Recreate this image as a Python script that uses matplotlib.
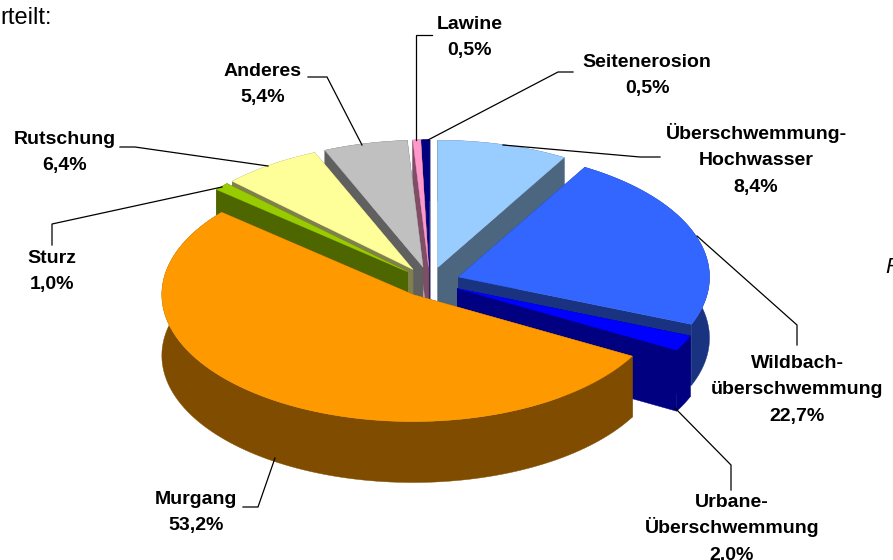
import numpy as np
import matplotlib
matplotlib.use('Agg')
import matplotlib.pyplot as plt
from matplotlib.patches import Polygon

plt.rcParams['font.family'] = ['Liberation Sans', 'DejaVu Sans']

# clockwise from 12 o'clock
names = ['Überschwemmung-\nHochwasser', 'Wildbach-\nüberschwemmung', 'Urbane-\nÜberschwemmung',
         'Murgang', 'Sturz', 'Rutschung', 'Anderes', 'Lawine', 'Seitenerosion']
shares = [8.4, 22.7, 2.0, 53.2, 1.0, 6.4, 5.4, 0.5, 0.5]
top_colors = ['#99CCFF', '#3366FF', '#0000FF', '#FF9900', '#99CC00',
              '#FFFF99', '#C0C0C0', '#FF99CC', '#000080']

# pie geometry in pixels
CX, CY = 430, 282
RX, RY = 251, 127
DEPTH = 61
EXPLODE = 0.12

# label centre and first line y, same order as names
label_pos = [(756, 132), (797, 361), (732, 500), (196, 497), (52, 256),
             (65, 137), (263, 69), (470, 22), (647, 60)]
leaders = [
    [(503, 145), (640, 157), (660, 157)],
    [(697, 236), (797, 325), (797, 345)],
    [(675, 408), (731, 465), (731, 490)],
    [(275, 458), (258, 507), (243, 507)],
    [(222, 187), (52, 224), (52, 245)],
    [(268, 166), (135, 147), (120, 147)],
    [(362, 145), (327, 77), (308, 77)],
    [(416, 140), (416, 35), (432, 35)],
    [(428, 140), (558, 72), (573, 72)],
]


def shade(color):
    return tuple(c * 0.5 for c in matplotlib.colors.to_rgb(color))


def draw_slice(ax, start, end, color):
    mid = (start + end) / 2
    ax_x = CX + EXPLODE * RX * np.sin(mid)
    ax_y = CY - EXPLODE * RY * np.cos(mid)
    t = np.linspace(start, end, 120)
    arc_x = ax_x + RX * np.sin(t)
    arc_y = ax_y - RY * np.cos(t)
    side = shade(color)
    style = dict(facecolor=side, edgecolor=side, linewidth=0.3)

    # cut faces first, then outer wall, then the top
    for ex, ey in [(arc_x[0], arc_y[0]), (arc_x[-1], arc_y[-1])]:
        wall = [(ax_x, ax_y), (ex, ey), (ex, ey + DEPTH), (ax_x, ax_y + DEPTH)]
        ax.add_patch(Polygon(wall, closed=True, **style))
    outer = np.r_[np.c_[arc_x, arc_y], np.c_[arc_x, arc_y + DEPTH][::-1]]
    ax.add_patch(Polygon(outer, closed=True, **style))
    top = np.r_[[[ax_x, ax_y]], np.c_[arc_x, arc_y]]
    ax.add_patch(Polygon(top, closed=True, facecolor=color, edgecolor=color, linewidth=0.3))


fig = plt.figure(figsize=(8.93, 5.6), dpi=100)
ax = fig.add_axes([0, 0, 1, 1])
ax.set_xlim(0, 893)
ax.set_ylim(560, 0)
ax.axis('off')

fractions = np.array(shares) / sum(shares)
edges = np.r_[0, np.cumsum(fractions)] * 2 * np.pi
mids = (edges[:-1] + edges[1:]) / 2

# back slices first so the front ones cover them
for i in np.argsort(-np.cos(mids)):
    draw_slice(ax, edges[i], edges[i + 1], top_colors[i])

for line in leaders:
    xs, ys = zip(*line)
    ax.plot(xs, ys, color='black', linewidth=0.9, solid_joinstyle='miter')

for name, share, (x, y) in zip(names, shares, label_pos):
    rows = name.split('\n') + [f'{share:.1f}%'.replace('.', ',')]
    for k, row in enumerate(rows):
        ax.text(x, y + 7 + k * 26.4, row, ha='center', va='baseline', fontsize=14, fontweight='bold')

ax.text(52, 24, 'rteilt:', ha='right', va='baseline', fontsize=17, clip_on=True)
ax.text(885, 273, 'F', ha='left', va='baseline', fontsize=16, style='italic', clip_on=True)

fig.savefig('out.png', dpi=100)
